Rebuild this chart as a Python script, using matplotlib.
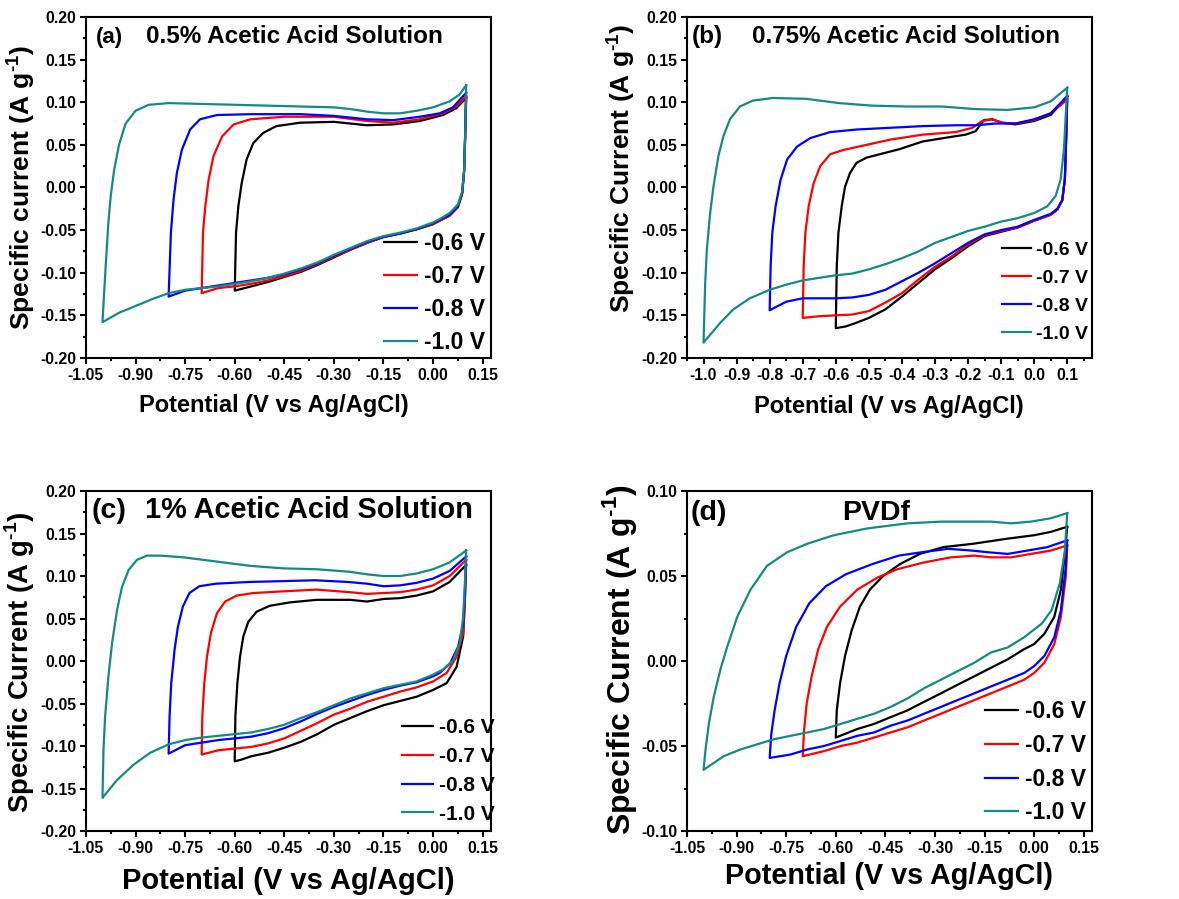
import matplotlib
matplotlib.use('Agg')
import matplotlib.pyplot as plt
from matplotlib.ticker import MultipleLocator, FormatStrFormatter

plt.rcParams['font.family'] = ['Liberation Sans', 'DejaVu Sans']
plt.rcParams['font.weight'] = 'bold'
plt.rcParams['mathtext.fontset'] = 'custom'
plt.rcParams['mathtext.rm'] = 'Liberation Sans:bold'
plt.rcParams['mathtext.bf'] = 'Liberation Sans:bold'
plt.rcParams['axes.unicode_minus'] = False

# ---- data: potential (V) and current (A/g), cathodic branch then anodic branch ----
labels = ['-0.6 V', '-0.7 V', '-0.8 V', '-1.0 V']
colors = ['#000000', '#FF0000', '#0000FF', '#138B83']

# (a) 0.5 % acetic acid
a06_E = [0.1, 0.097, 0.094, 0.088, 0.075, 0.05, 0.02, 0.0, -0.05, -0.10, -0.15, -0.20, -0.25, -0.30, -0.35, -0.40, -0.45, -0.50, -0.55, -0.60,
         -0.596, -0.589, -0.579, -0.564, -0.544, -0.514, -0.474, -0.402, -0.30, -0.20, -0.12, -0.04, 0.03, 0.07, 0.1]
a06_I = [0.105, 0.06, 0.02, -0.007, -0.023, -0.033, -0.039, -0.043, -0.049, -0.054, -0.058, -0.065, -0.073, -0.082, -0.091, -0.099, -0.105, -0.111, -0.116, -0.121,
         -0.053, -0.022, 0.005, 0.033, 0.052, 0.064, 0.072, 0.076, 0.077, 0.073, 0.074, 0.078, 0.085, 0.093, 0.105]
a07_E = [0.1, 0.097, 0.094, 0.088, 0.075, 0.05, 0.02, 0.0, -0.05, -0.10, -0.15, -0.20, -0.25, -0.30, -0.35, -0.40, -0.45, -0.50, -0.55, -0.60, -0.65, -0.70,
         -0.696, -0.689, -0.679, -0.664, -0.638, -0.603, -0.553, -0.45, -0.30, -0.20, -0.12, -0.04, 0.03, 0.07, 0.1]
a07_I = [0.107, 0.06, 0.02, -0.007, -0.023, -0.033, -0.039, -0.043, -0.049, -0.054, -0.058, -0.065, -0.073, -0.081, -0.090, -0.098, -0.104, -0.109, -0.113, -0.116, -0.118, -0.124,
         -0.053, -0.022, 0.009, 0.037, 0.060, 0.074, 0.080, 0.083, 0.083, 0.078, 0.076, 0.080, 0.087, 0.095, 0.107]
a08_E = [0.1, 0.097, 0.094, 0.088, 0.075, 0.05, 0.02, 0.0, -0.05, -0.10, -0.15, -0.20, -0.25, -0.30, -0.35, -0.40, -0.45, -0.50, -0.55, -0.60, -0.65, -0.70, -0.75, -0.80,
         -0.793, -0.785, -0.775, -0.76, -0.735, -0.705, -0.654, -0.55, -0.40, -0.30, -0.20, -0.12, -0.04, 0.02, 0.06, 0.1]
a08_I = [0.111, 0.06, 0.02, -0.006, -0.022, -0.032, -0.038, -0.042, -0.049, -0.054, -0.058, -0.064, -0.072, -0.080, -0.089, -0.096, -0.102, -0.106, -0.109, -0.112, -0.115, -0.118, -0.121, -0.128,
         -0.053, -0.014, 0.017, 0.044, 0.068, 0.080, 0.085, 0.086, 0.086, 0.084, 0.080, 0.079, 0.083, 0.087, 0.094, 0.111]
a10_E = [0.1, 0.097, 0.094, 0.088, 0.075, 0.05, 0.02, 0.0, -0.05, -0.10, -0.15, -0.20, -0.25, -0.30, -0.35, -0.40, -0.45, -0.50, -0.55, -0.60, -0.65, -0.70, -0.75, -0.80, -0.85, -0.90, -0.95, -1.0,
         -0.99, -0.982, -0.975, -0.965, -0.95, -0.93, -0.90, -0.86, -0.80, -0.70, -0.60, -0.50, -0.40, -0.30, -0.25, -0.20, -0.15, -0.10, -0.05, 0.0, 0.05, 0.08, 0.1]
a10_I = [0.120, 0.06, 0.02, -0.005, -0.020, -0.030, -0.037, -0.041, -0.048, -0.053, -0.057, -0.063, -0.071, -0.079, -0.088, -0.095, -0.101, -0.106, -0.110, -0.113, -0.116, -0.118, -0.120, -0.124, -0.131, -0.139, -0.147, -0.158,
         -0.090, -0.040, -0.010, 0.020, 0.050, 0.075, 0.090, 0.097, 0.099, 0.098, 0.097, 0.096, 0.095, 0.094, 0.092, 0.089, 0.087, 0.087, 0.090, 0.094, 0.101, 0.109, 0.120]

# (b) 0.75 % acetic acid
b06_E = [0.1, 0.097, 0.093, 0.085, 0.07, 0.05, 0.0, -0.05, -0.10, -0.15, -0.20, -0.25, -0.30, -0.35, -0.40, -0.45, -0.50, -0.54, -0.57, -0.60,
         -0.597, -0.592, -0.582, -0.572, -0.557, -0.537, -0.507, -0.467, -0.407, -0.337, -0.257, -0.207, -0.177, -0.152, -0.127, -0.097, -0.057, 0.0, 0.05, 0.1]
b06_I = [0.107, 0.06, 0.01, -0.015, -0.026, -0.032, -0.039, -0.047, -0.052, -0.057, -0.069, -0.083, -0.096, -0.112, -0.128, -0.143, -0.153, -0.159, -0.163, -0.165,
         -0.092, -0.053, -0.022, 0.001, 0.017, 0.029, 0.035, 0.039, 0.045, 0.054, 0.059, 0.062, 0.066, 0.079, 0.080, 0.076, 0.074, 0.078, 0.085, 0.107]
b07_E = [0.1, 0.097, 0.093, 0.085, 0.07, 0.05, 0.0, -0.05, -0.10, -0.15, -0.20, -0.25, -0.30, -0.35, -0.40, -0.45, -0.50, -0.55, -0.60, -0.65, -0.70,
         -0.697, -0.692, -0.682, -0.667, -0.647, -0.617, -0.577, -0.507, -0.437, -0.337, -0.237, -0.187, -0.157, -0.127, -0.097, -0.057, 0.0, 0.05, 0.1]
b07_I = [0.100, 0.06, 0.01, -0.015, -0.026, -0.032, -0.039, -0.047, -0.051, -0.056, -0.067, -0.081, -0.093, -0.108, -0.124, -0.135, -0.145, -0.149, -0.150, -0.151, -0.153,
         -0.092, -0.053, -0.022, 0.005, 0.025, 0.039, 0.044, 0.050, 0.056, 0.062, 0.065, 0.070, 0.078, 0.080, 0.076, 0.075, 0.079, 0.087, 0.103]
b08_E = [0.1, 0.097, 0.093, 0.085, 0.07, 0.05, 0.0, -0.05, -0.10, -0.15, -0.20, -0.25, -0.30, -0.35, -0.40, -0.45, -0.50, -0.55, -0.60, -0.65, -0.70, -0.75, -0.80,
         -0.797, -0.792, -0.782, -0.767, -0.747, -0.717, -0.677, -0.617, -0.537, -0.437, -0.337, -0.237, -0.177, -0.117, -0.057, 0.0, 0.05, 0.1]
b08_I = [0.107, 0.06, 0.01, -0.015, -0.025, -0.031, -0.038, -0.046, -0.050, -0.055, -0.065, -0.077, -0.089, -0.100, -0.110, -0.120, -0.126, -0.129, -0.130, -0.130, -0.130, -0.134, -0.144,
         -0.092, -0.053, -0.022, 0.009, 0.033, 0.048, 0.058, 0.065, 0.068, 0.070, 0.072, 0.073, 0.073, 0.075, 0.075, 0.080, 0.087, 0.107]
b10_E = [0.1, 0.095, 0.09, 0.08, 0.065, 0.04, 0.0, -0.05, -0.10, -0.15, -0.20, -0.25, -0.30, -0.35, -0.40, -0.45, -0.50, -0.55, -0.60, -0.65, -0.70, -0.75, -0.80, -0.86, -0.91, -0.95, -1.0,
         -0.995, -0.99, -0.98, -0.97, -0.955, -0.94, -0.92, -0.89, -0.85, -0.79, -0.69, -0.59, -0.49, -0.385, -0.28, -0.18, -0.08, 0.0, 0.05, 0.1]
b10_I = [0.117, 0.080, 0.044, 0.009, -0.010, -0.022, -0.030, -0.036, -0.040, -0.046, -0.051, -0.058, -0.065, -0.075, -0.083, -0.090, -0.096, -0.101, -0.103, -0.106, -0.109, -0.114, -0.120, -0.130, -0.143, -0.159, -0.182,
         -0.112, -0.073, -0.030, 0.001, 0.037, 0.060, 0.080, 0.095, 0.102, 0.105, 0.104, 0.099, 0.096, 0.095, 0.095, 0.092, 0.091, 0.094, 0.101, 0.117]

# (c) 1 % acetic acid
c06_E = [0.1, 0.096, 0.091, 0.071, 0.041, 0.0, -0.05, -0.10, -0.15, -0.20, -0.25, -0.30, -0.35, -0.40, -0.45, -0.50, -0.55, -0.58, -0.60,
         -0.598, -0.592, -0.584, -0.574, -0.559, -0.534, -0.494, -0.433, -0.352, -0.251, -0.20, -0.15, -0.10, -0.05, 0.0, 0.05, 0.1]
c06_I = [0.113, 0.07, 0.029, -0.007, -0.026, -0.034, -0.042, -0.047, -0.052, -0.059, -0.067, -0.075, -0.086, -0.095, -0.102, -0.108, -0.112, -0.116, -0.118,
         -0.065, -0.026, 0.005, 0.029, 0.046, 0.058, 0.065, 0.069, 0.072, 0.072, 0.070, 0.073, 0.074, 0.077, 0.082, 0.093, 0.113]
c07_E = [0.1, 0.096, 0.091, 0.071, 0.041, 0.0, -0.05, -0.10, -0.15, -0.20, -0.25, -0.30, -0.35, -0.40, -0.45, -0.50, -0.55, -0.60, -0.65, -0.70,
         -0.698, -0.692, -0.684, -0.672, -0.654, -0.629, -0.594, -0.544, -0.453, -0.352, -0.251, -0.20, -0.15, -0.10, -0.05, 0.0, 0.05, 0.1]
c07_I = [0.119, 0.07, 0.033, 0.005, -0.014, -0.024, -0.031, -0.036, -0.042, -0.048, -0.056, -0.063, -0.073, -0.082, -0.091, -0.097, -0.101, -0.103, -0.105, -0.110,
         -0.065, -0.026, 0.005, 0.033, 0.056, 0.070, 0.077, 0.080, 0.082, 0.084, 0.081, 0.079, 0.080, 0.081, 0.084, 0.089, 0.100, 0.119]
c08_E = [0.1, 0.096, 0.091, 0.076, 0.051, 0.02, 0.0, -0.05, -0.10, -0.15, -0.20, -0.25, -0.30, -0.35, -0.40, -0.45, -0.50, -0.55, -0.60, -0.65, -0.70, -0.75, -0.80,
         -0.797, -0.792, -0.782, -0.772, -0.757, -0.737, -0.707, -0.657, -0.557, -0.457, -0.357, -0.257, -0.20, -0.15, -0.10, -0.05, 0.0, 0.05, 0.1]
c08_I = [0.123, 0.08, 0.044, 0.017, -0.003, -0.014, -0.018, -0.025, -0.029, -0.034, -0.040, -0.047, -0.054, -0.062, -0.071, -0.079, -0.085, -0.089, -0.091, -0.093, -0.096, -0.099, -0.109,
         -0.065, -0.026, 0.013, 0.040, 0.064, 0.080, 0.088, 0.091, 0.093, 0.094, 0.095, 0.093, 0.091, 0.088, 0.089, 0.092, 0.097, 0.106, 0.123]
c10_E = [0.1, 0.096, 0.091, 0.081, 0.061, 0.03, 0.0, -0.05, -0.10, -0.15, -0.20, -0.25, -0.30, -0.35, -0.40, -0.45, -0.50, -0.55, -0.60, -0.65, -0.70, -0.75, -0.80, -0.856, -0.906, -0.956, -1.0,
         -0.997, -0.992, -0.982, -0.971, -0.956, -0.941, -0.921, -0.896, -0.866, -0.825, -0.755, -0.654, -0.554, -0.453, -0.352, -0.251, -0.20, -0.15, -0.10, -0.05, 0.0, 0.05, 0.1]
c10_I = [0.130, 0.09, 0.052, 0.021, 0.001, -0.010, -0.016, -0.024, -0.028, -0.032, -0.038, -0.044, -0.052, -0.060, -0.067, -0.075, -0.080, -0.084, -0.086, -0.088, -0.090, -0.093, -0.098, -0.108, -0.122, -0.140, -0.161,
         -0.105, -0.065, -0.018, 0.021, 0.060, 0.087, 0.107, 0.119, 0.124, 0.124, 0.122, 0.117, 0.112, 0.109, 0.108, 0.105, 0.102, 0.100, 0.100, 0.103, 0.108, 0.116, 0.130]

# (d) PVDf
d06_E = [0.1, 0.094, 0.081, 0.061, 0.031, 0.0, -0.03, -0.08, -0.131, -0.181, -0.232, -0.282, -0.333, -0.383, -0.434, -0.484, -0.535, -0.6,
         -0.597, -0.587, -0.572, -0.552, -0.527, -0.497, -0.457, -0.406, -0.346, -0.275, -0.184, -0.08, 0.0, 0.051, 0.1]
d06_I = [0.079, 0.065, 0.042, 0.026, 0.016, 0.010, 0.007, 0.001, -0.004, -0.009, -0.014, -0.019, -0.024, -0.029, -0.033, -0.037, -0.040, -0.045,
         -0.029, -0.013, 0.003, 0.018, 0.032, 0.042, 0.050, 0.057, 0.063, 0.067, 0.069, 0.072, 0.074, 0.076, 0.079]
d07_E = [0.1, 0.096, 0.081, 0.061, 0.031, 0.0, -0.03, -0.08, -0.131, -0.181, -0.232, -0.282, -0.333, -0.383, -0.434, -0.484, -0.535, -0.585, -0.636, -0.7,
         -0.696, -0.688, -0.673, -0.653, -0.627, -0.587, -0.535, -0.475, -0.414, -0.333, -0.252, -0.181, -0.131, -0.07, -0.01, 0.051, 0.1]
d07_I = [0.068, 0.050, 0.026, 0.010, -0.001, -0.007, -0.011, -0.015, -0.019, -0.023, -0.027, -0.031, -0.035, -0.039, -0.042, -0.045, -0.048, -0.050, -0.053, -0.056,
         -0.041, -0.025, -0.009, 0.007, 0.020, 0.032, 0.042, 0.049, 0.054, 0.058, 0.061, 0.062, 0.061, 0.061, 0.063, 0.065, 0.068]
d08_E = [0.1, 0.096, 0.081, 0.061, 0.031, 0.0, -0.03, -0.08, -0.131, -0.181, -0.232, -0.282, -0.333, -0.383, -0.434, -0.484, -0.535, -0.585, -0.636, -0.686, -0.737, -0.8,
         -0.795, -0.785, -0.77, -0.75, -0.72, -0.68, -0.63, -0.57, -0.49, -0.41, -0.34, -0.26, -0.19, -0.14, -0.08, -0.02, 0.04, 0.1]
d08_I = [0.071, 0.056, 0.030, 0.014, 0.003, -0.003, -0.007, -0.011, -0.015, -0.019, -0.023, -0.027, -0.031, -0.035, -0.038, -0.042, -0.044, -0.047, -0.050, -0.052, -0.055, -0.057,
         -0.043, -0.029, -0.013, 0.003, 0.020, 0.034, 0.044, 0.051, 0.057, 0.062, 0.064, 0.066, 0.065, 0.064, 0.063, 0.065, 0.067, 0.071]
d10_E = [0.1, 0.093, 0.078, 0.053, 0.023, -0.03, -0.08, -0.131, -0.181, -0.232, -0.282, -0.333, -0.383, -0.434, -0.484, -0.535, -0.585, -0.636, -0.686, -0.737, -0.787, -0.838, -0.888, -0.939, -1.0,
         -0.994, -0.984, -0.969, -0.949, -0.929, -0.898, -0.858, -0.808, -0.747, -0.686, -0.606, -0.505, -0.383, -0.282, -0.202, -0.131, -0.07, -0.01, 0.051, 0.1]
d10_I = [0.087, 0.065, 0.046, 0.030, 0.022, 0.014, 0.008, 0.005, -0.001, -0.006, -0.011, -0.016, -0.022, -0.027, -0.031, -0.034, -0.037, -0.040, -0.042, -0.044, -0.046, -0.049, -0.052, -0.056, -0.064,
         -0.052, -0.037, -0.021, -0.005, 0.008, 0.026, 0.042, 0.056, 0.064, 0.069, 0.074, 0.078, 0.081, 0.082, 0.082, 0.082, 0.081, 0.082, 0.084, 0.087]

sup = r'$^{\text{-1}}$'

panels = [
    dict(pos=[0.0729, 0.6018, 0.3435, 0.3793], curves=[(a06_E, a06_I), (a07_E, a07_I), (a08_E, a08_I), (a10_E, a10_I)],
         ylim=(-0.2, 0.2), ymaj=0.05, xmaj=0.15, xfmt='%.2f', tag='(a)', tag_x=0.025, tag_fs=16,
         title='0.5% Acetic Acid Solution', title_x=0.148, title_y=0.924, title_fs=17.5,
         ylabel='Specific current (A g' + sup + ')', ylab_fs=19, ylab_xy=(-0.121, 0.4985),
         xlab_fs=17, xlab_xy=(0.464, -0.106), leg_fs=16.5, leg_space=0.45, leg_anchor=(1.02, -0.03)),
    dict(pos=[0.5827, 0.6018, 0.3435, 0.3793], curves=[(b06_E, b06_I), (b07_E, b07_I), (b08_E, b08_I), (b10_E, b10_I)],
         ylim=(-0.2, 0.2), ymaj=0.05, xmaj=0.1, xfmt='%.1f', tag='(b)', tag_x=0.012, tag_fs=17.5,
         title='0.75% Acetic Acid Solution', title_x=0.16, title_y=0.924, title_fs=17.4,
         ylabel='Specific Current (A g' + sup + ')', ylab_fs=19, ylab_xy=(-0.123, 0.555),
         xlab_fs=17, xlab_xy=(0.498, -0.108), leg_fs=14, leg_space=0.54, leg_anchor=(1.02, 0.009)),
    dict(pos=[0.0729, 0.0756, 0.3435, 0.3782], curves=[(c06_E, c06_I), (c07_E, c07_I), (c08_E, c08_I), (c10_E, c10_I)],
         ylim=(-0.2, 0.2), ymaj=0.05, xmaj=0.15, xfmt='%.2f', tag='(c)', tag_x=0.014, tag_fs=20.5,
         title='1% Acetic Acid Solution', title_x=0.147, title_y=0.92, title_fs=20.8,
         ylabel='Specific Current (A g' + sup + ')', ylab_fs=19.8, ylab_xy=(-0.121, 0.498),
         xlab_fs=21, xlab_xy=(0.5, -0.106), leg_fs=15, leg_space=0.47, leg_anchor=(1.04, -0.015)),
    dict(pos=[0.5827, 0.0756, 0.3435, 0.3782], curves=[(d06_E, d06_I), (d07_E, d07_I), (d08_E, d08_I), (d10_E, d10_I)],
         ylim=(-0.1, 0.1), ymaj=0.05, xmaj=0.15, xfmt='%.2f', tag='(d)', tag_x=0.008, tag_fs=20.5,
         title='PVDf', title_x=0.383, title_y=0.915, title_fs=20.5,
         ylabel='Specific Current (A g' + sup + ')', ylab_fs=23, ylab_xy=(-0.119, 0.503),
         xlab_fs=20.7, xlab_xy=(0.499, -0.091), leg_fs=16.5, leg_space=0.47, leg_anchor=(1.02, -0.021)),
]

fig = plt.figure(figsize=(11.79, 8.99), dpi=100)

for p in panels:
    ax = fig.add_axes(p['pos'])
    for (E, I), c, lab in zip(p['curves'], colors, labels):
        ax.plot(E, I, color=c, lw=1.6, label=lab)
    ax.set_xlim(-1.05, 0.175)
    ax.set_ylim(*p['ylim'])
    ax.xaxis.set_major_locator(MultipleLocator(p['xmaj']))
    ax.xaxis.set_minor_locator(MultipleLocator(p['xmaj'] / 2))
    ax.yaxis.set_major_locator(MultipleLocator(p['ymaj']))
    ax.yaxis.set_minor_locator(MultipleLocator(p['ymaj'] / 2))
    ax.xaxis.set_major_formatter(FormatStrFormatter(p['xfmt']))
    ax.yaxis.set_major_formatter(FormatStrFormatter('%.2f'))
    ax.tick_params(which='both', direction='out', top=False, right=False, width=1.5)
    ax.tick_params(which='major', length=4.5, pad=2.5, labelsize=11.3)
    ax.tick_params(which='minor', length=2.5)
    for s in ax.spines.values():
        s.set_linewidth(1.5)

    ax.set_xlabel('Potential (V vs Ag/AgCl)', fontsize=p['xlab_fs'], fontweight='bold')
    ax.xaxis.set_label_coords(*p['xlab_xy'])
    ax.set_ylabel(p['ylabel'], fontsize=p['ylab_fs'], fontweight='bold')
    ax.yaxis.set_label_coords(*p['ylab_xy'])

    ax.text(p['tag_x'], p['title_y'], p['tag'], transform=ax.transAxes,
            fontsize=p['tag_fs'], fontweight='bold', va='baseline')
    ax.text(p['title_x'], p['title_y'], p['title'], transform=ax.transAxes,
            fontsize=p['title_fs'], fontweight='bold', va='baseline')

    ax.legend(loc='lower right', bbox_to_anchor=p['leg_anchor'], frameon=False,
              fontsize=p['leg_fs'], handlelength=1.45, handletextpad=0.3,
              labelspacing=p['leg_space'], borderaxespad=0.2)

fig.savefig('out.png', dpi=100)
